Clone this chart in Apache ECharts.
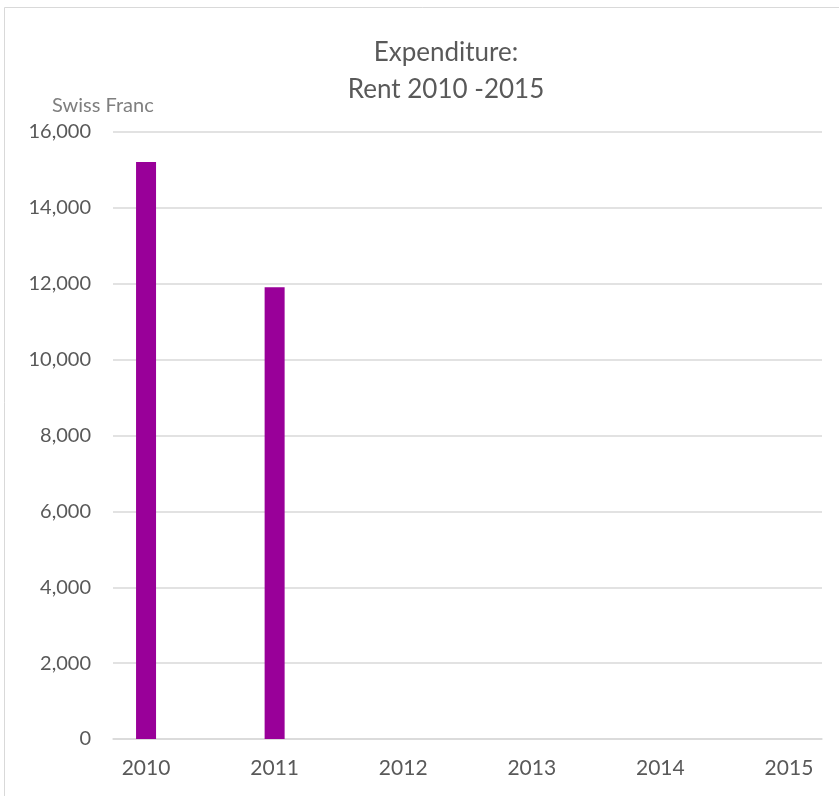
<!DOCTYPE html>
<html>
<head>
<meta charset="utf-8">
<script src="https://cdn.jsdelivr.net/npm/echarts@6/dist/echarts.min.js"></script>
<style>html,body{margin:0;padding:0;background:#fff;}#c{width:839px;height:796px;}</style>
</head>
<body>
<div id="c"></div>
<script>
const years = [2010, 2011, 2012, 2013, 2014, 2015];
const rent = [15210, 11910, null, null, null, null];
const yTicks = [0, 2000, 4000, 6000, 8000, 10000, 12000, 14000, 16000];
const titleLines = ['Expenditure:', 'Rent 2010 -2015'];
const yUnit = 'Swiss Franc';

const chart = echarts.init(document.getElementById('c'));
const font = 'Lato, "Open Sans", sans-serif';
chart.setOption({
  backgroundColor: '#fff',
  animation: false,
  title: {
    text: titleLines.join('\n'),
    left: 441, textAlign: 'center', top: 29,
    textStyle: { fontFamily: font, fontSize: 26, fontWeight: 'normal', color: '#595959', lineHeight: 37 }
  },
  graphic: [
    { type: 'rect', shape: { x: 4.5, y: 7.5, width: 900, height: 900 }, style: { fill: 'none', stroke: '#d9d9d9', lineWidth: 1 }, z: -1 },
    { type: 'text', left: 52, top: 96, style: { text: yUnit, font: '20px ' + font, fill: '#7f7f7f' } }
  ],
  grid: { left: 113, right: 17, top: 132, bottom: 57 },
  xAxis: {
    type: 'value',
    min: 2009.743, max: 2015.257,
    splitLine: { show: false },
    axisLine: { show: true, lineStyle: { color: '#d9d9d9', width: 1.5 } },
    axisTick: { show: false },
    axisLabel: {
      customValues: years,
      formatter: v => String(Math.round(v)),
      fontFamily: font, fontSize: 21, color: '#595959', margin: 19
    }
  },
  yAxis: {
    type: 'value', min: 0, max: 16000, interval: 2000,
    axisLine: { show: false }, axisTick: { show: false },
    splitLine: { lineStyle: { color: '#d9d9d9', width: 1.5 } },
    axisLabel: {
      formatter: v => v.toLocaleString('en-US'),
      fontFamily: font, fontSize: 20, color: '#595959', margin: 22
    }
  },
  series: [{
    type: 'bar',
    barWidth: 20,
    itemStyle: { color: '#990099' },
    data: years.map((y, i) => [y, rent[i]]).filter(d => d[1] != null)
  }]
});
</script>
</body>
</html>
